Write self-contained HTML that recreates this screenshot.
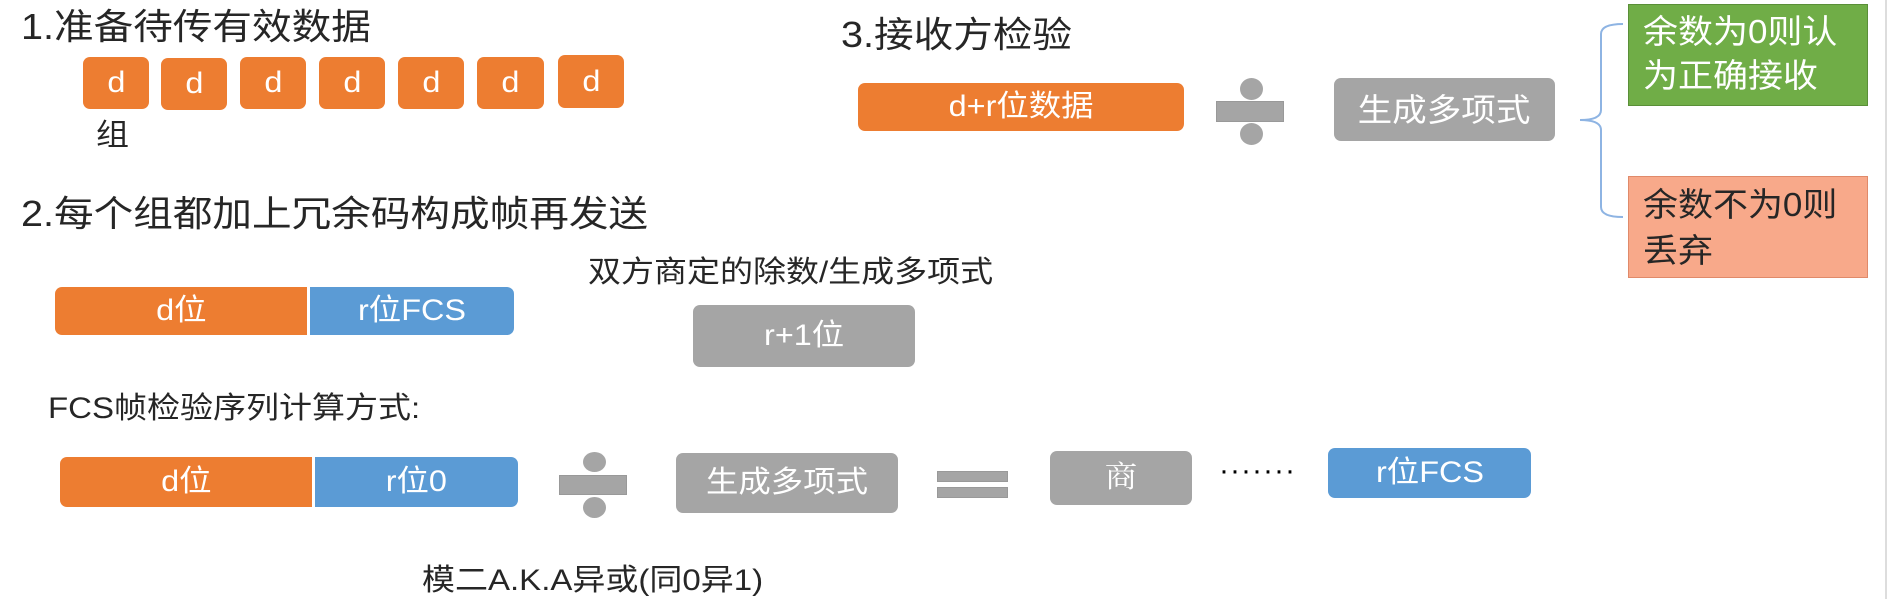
<!DOCTYPE html>
<html><head><meta charset="utf-8"><style>
html,body{margin:0;padding:0;background:#fff;}
body{width:1890px;height:599px;position:relative;overflow:hidden;font-family:"Liberation Sans","Noto Sans CJK SC",sans-serif;}
.t{position:absolute;white-space:nowrap;color:#262626;transform:scaleX(1.1);transform-origin:left top;line-height:1;}
.b{position:absolute;display:flex;align-items:center;justify-content:center;color:#fff;border-radius:7px;white-space:nowrap;}
.b span{display:inline-block;transform:scaleX(1.08);line-height:1;}
.o{background:#ED7D31;}
.bl{background:#5B9BD5;}
.g{background:#A5A5A5;}
.d{font-size:30px;}
.c{position:absolute;background:#A5A5A5;border-radius:50%;}
.r{position:absolute;background:#A5A5A5;border:1px solid #999;box-sizing:border-box;}
</style></head><body>

<div class="t" style="left:21px;top:9px;font-size:36px;">1.准备待传有效数据</div>
<div class="b o d" style="left:83px;top:57px;width:66px;height:52px;"><span>d</span></div>
<div class="b o d" style="left:161px;top:58px;width:66px;height:52px;"><span>d</span></div>
<div class="b o d" style="left:240px;top:57px;width:66px;height:52px;"><span>d</span></div>
<div class="b o d" style="left:319px;top:57px;width:66px;height:52px;"><span>d</span></div>
<div class="b o d" style="left:398px;top:57px;width:66px;height:52px;"><span>d</span></div>
<div class="b o d" style="left:477px;top:57px;width:67px;height:52px;"><span>d</span></div>
<div class="b o d" style="left:558px;top:55px;width:66px;height:53px;"><span>d</span></div>
<div class="t" style="left:96px;top:121px;font-size:30px;">组</div>

<div class="t" style="left:21px;top:196px;font-size:36px;">2.每个组都加上冗余码构成帧再发送</div>
<div class="t" style="left:588px;top:258px;font-size:30px;">双方商定的除数/生成多项式</div>
<div class="b o d" style="left:55px;top:287px;width:252px;height:48px;border-radius:7px 0 0 7px;"><span>d位</span></div>
<div class="b bl d" style="left:310px;top:287px;width:204px;height:48px;border-radius:0 7px 7px 0;"><span>r位FCS</span></div>
<div class="b g d" style="left:693px;top:305px;width:222px;height:62px;"><span>r+1位</span></div>

<div class="t" style="left:48px;top:394px;font-size:30px;">FCS帧检验序列计算方式:</div>
<div class="b o d" style="left:60px;top:457px;width:252px;height:50px;border-radius:7px 0 0 7px;"><span>d位</span></div>
<div class="b bl d" style="left:315px;top:457px;width:203px;height:50px;border-radius:0 7px 7px 0;"><span>r位0</span></div>
<div class="c" style="left:583px;top:452px;width:23px;height:20px;"></div>
<div class="r" style="left:559px;top:475px;width:68px;height:20px;"></div>
<div class="c" style="left:583px;top:497px;width:23px;height:21px;"></div>
<div class="b g d" style="left:676px;top:453px;width:222px;height:60px;"><span>生成多项式</span></div>
<div class="r" style="left:937px;top:471px;width:71px;height:11px;"></div>
<div class="r" style="left:937px;top:487px;width:71px;height:11px;"></div>
<div class="b g d" style="left:1050px;top:451px;width:142px;height:54px;font-family:'Liberation Serif','Noto Serif CJK SC',serif;"><span>商</span></div>
<div class="t" style="left:1219px;top:456px;font-size:30px;color:#000;letter-spacing:1px;transform:none;">·······</div>
<div class="b bl d" style="left:1328px;top:448px;width:203px;height:50px;"><span>r位FCS</span></div>
<div class="t" style="left:422px;top:566px;font-size:30px;">模二A.K.A异或(同0异1)</div>

<div class="t" style="left:841px;top:17px;font-size:36px;">3.接收方检验</div>
<div class="b o d" style="left:858px;top:83px;width:326px;height:48px;"><span>d+r位数据</span></div>
<div class="c" style="left:1240px;top:78px;width:23px;height:22px;"></div>
<div class="r" style="left:1216px;top:101px;width:68px;height:21px;"></div>
<div class="c" style="left:1240px;top:123px;width:23px;height:22px;"></div>
<div class="b g" style="left:1334px;top:78px;width:221px;height:63px;font-size:32px;"><span>生成多项式</span></div>

<svg style="position:absolute;left:0;top:0" width="1890" height="599">
<path d="M1623,24 Q1601,24 1601,34 L1601,110 Q1601,120 1580,120 Q1601,120 1601,130 L1601,207 Q1601,217 1623,217" fill="none" stroke="#8EB4E3" stroke-width="2"/>
<line x1="1886" y1="0" x2="1886" y2="599" stroke="#ddd" stroke-width="2"/>
</svg>

<div style="position:absolute;left:1628px;top:4px;width:240px;height:102px;background:#70AD47;border:1px solid #5a8f38;box-sizing:border-box;"></div>
<div class="t" style="left:1643px;top:10px;font-size:33px;color:#fff;line-height:44px;transform:scaleX(1.06);">余数为0则认<br>为正确接收</div>
<div style="position:absolute;left:1628px;top:176px;width:240px;height:102px;background:#F8A98A;border:1px solid #e08a6a;box-sizing:border-box;"></div>
<div class="t" style="left:1643px;top:182px;font-size:33px;color:#262626;line-height:46px;transform:scaleX(1.06);">余数不为0则<br>丢弃</div>

</body></html>
